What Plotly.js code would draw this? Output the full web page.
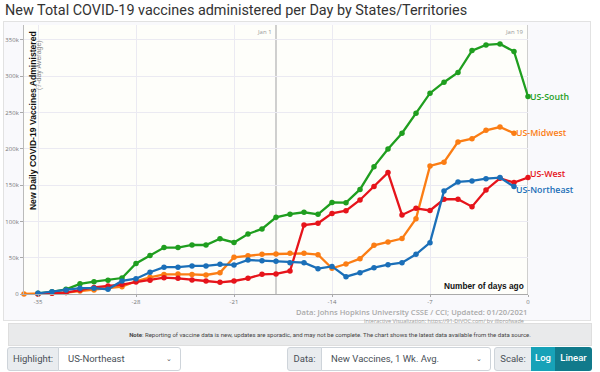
<!DOCTYPE html>
<html>
<head>
<meta charset="utf-8">
<script src="https://cdn.plot.ly/plotly-3.0.1.min.js"></script>
<style>
  html, body { margin:0; padding:0; background:#fff; width:600px; height:372px; overflow:hidden; font-family:"Roboto","Liberation Sans",sans-serif; }
  #frame { position:absolute; left:3px; top:21px; width:588px; height:300px; border:1px solid #e2e2e2; background:#f9f9fc; box-sizing:border-box; }
  #chart { position:absolute; left:0; top:0; width:600px; height:332px; }
  #note { position:absolute; left:8px; top:323px; width:584px; height:23px; background:#e9eaeb; border:1px solid #dedede; box-sizing:border-box; font-size:6px; color:#444; text-align:center; line-height:21px; padding-left:60px; font-family:"Roboto",sans-serif; }
  .ctl { position:absolute; top:347px; height:24px; box-sizing:border-box; border:1px solid #ced4da; font-size:9.5px; color:#495057; line-height:22px; font-family:"Roboto",sans-serif; }
  .lbl { background:#e9ecef; text-align:center; }
  .sel { background:#fff; padding-left:9px; }
  .chev { position:absolute; right:8px; top:0; font-size:7px; color:#555; }
  .btn { color:#fff; text-align:center; font-weight:500; border:none; }
</style>
</head>
<body>
<div id="frame"></div>
<div id="chart"></div>
<div id="note"><b>Note</b>: Reporting of vaccine data is new, updates are sporadic, and may not be complete. The chart shows the latest data available from the data source.</div>
<div class="ctl lbl" style="left:7px;width:52px;border-radius:3px 0 0 3px;">Highlight:</div>
<div class="ctl sel" style="left:58px;width:123px;border-radius:0 3px 3px 0;">US-Northeast<span class="chev">&#8964;</span></div>
<div class="ctl lbl" style="left:287px;width:35px;border-radius:3px 0 0 3px;">Data:</div>
<div class="ctl sel" style="left:321px;width:170px;border-radius:0 3px 3px 0;">New Vaccines, 1 Wk. Avg.<span class="chev">&#8964;</span></div>
<div class="ctl lbl" style="left:494px;width:38px;border-radius:3px 0 0 3px;">Scale:</div>
<div class="ctl btn" style="left:531px;width:24px;background:#17a2b8;">Log</div>
<div class="ctl btn" style="left:555px;width:37px;background:#117a8b;border-radius:0 3px 3px 0;">Linear</div>
<script>
// ---- data (values in thousands of vaccines/day, 7-day avg) ----
const southDays = [-35,-34,-33,-32,-31,-30,-29,-28,-27,-26,-25,-24,-23,-22,-21,-20,-19,-18,-17,-16,-15,-14,-13,-12,-11,-10,-9,-8,-7,-6,-5,-4,-3,-2,-1,0];
const southVals = [1,3,6.5,14,17,19,22,42,53,64,64,67.5,67.5,76,71,82.7,89.6,105.6,110,112.6,109.8,126,125.8,144,175.4,199.8,221.4,249,276.6,291.7,305,335.3,343,344.5,334,272];

const midwestDays = [-36,-35,-34,-33,-32,-31,-30,-29,-28,-27,-26,-25,-24,-23,-22,-21,-20,-19,-18,-17,-16,-15,-14,-13,-12,-11,-10,-9,-8,-7,-6,-5,-4,-3,-2,-1];
const midwestVals = [0,0,1,2,4,5.5,8,10,17.5,23,27,27.5,27,26.2,29.4,50.5,52.8,54.6,55.1,56,56,54.2,35.4,41.3,48.7,67,71.7,76.3,103.8,176.4,181.5,209.5,214,225.5,230,221.4];

const westDays = [-35,-34,-33,-32,-31,-30,-29,-28,-27,-26,-25,-24,-23,-22,-21,-20,-19,-18,-17,-16,-15,-14,-13,-12,-11,-10,-9,-8,-7,-6,-5,-4,-3,-2,-1,0];
const westVals = [0,1,2,5.5,9,11,13,16.5,19,22.5,21.6,19.3,17.9,16.1,17.9,21.6,27.1,27.6,31.7,95,97.4,111,114.8,129.5,147.9,167.2,108.9,118,115,130.5,130.5,120.3,143.3,159.4,153.4,160.3];

const northeastDays = [-35,-34,-33,-32,-31,-30,-29,-28,-27,-26,-25,-24,-23,-22,-21,-20,-19,-18,-17,-16,-15,-14,-13,-12,-11,-10,-9,-8,-7,-6,-5,-4,-3,-2,-1];
const northeastVals = [1,3,5.5,8,8,6.5,18,21,30,37,37,38.6,38.6,40.9,40,46.8,45.9,45,43.2,43.2,34.9,38,23.9,29.4,36.3,40.4,43.2,54.7,70.7,142,154.3,155.7,158.9,160.3,147.9];

const seriesNames = ["US-Midwest","US-South","US-West","US-Northeast"];
const xTickVals = [-35,-28,-21,-14,-7,0];
const xTickText = ["-35","-28","-21","-14","-7","0"];
const yTickVals = [0,50000,100000,150000,200000,250000,300000,350000];
const yTickText = ["0","50k","100k","150k","200k","250k","300k","350k"];
const dateMarkers = [{day:-18,label:"Jan 1"},{day:0,label:"Jan 19"}];

// ---- build ----
const colors = {"US-South":"#1f9e1f","US-Midwest":"#fb7d14","US-West":"#e6141b","US-Northeast":"#1b6fb8"};
const labelShift = {"US-South":0,"US-Midwest":0,"US-West":4,"US-Northeast":-3};
const dataBy = {
  "US-South":[southDays,southVals],
  "US-Midwest":[midwestDays,midwestVals],
  "US-West":[westDays,westVals],
  "US-Northeast":[northeastDays,northeastVals]
};
const traces = seriesNames.map(n => ({
  type:"scatter", mode:"lines+markers", name:n,
  x:dataBy[n][0], y:dataBy[n][1].map(v=>v*1000),
  line:{color:colors[n], width:2.3},
  marker:{color:colors[n], size:5.5},
  cliponaxis:false, hoverinfo:"skip"
}));

const annotations = seriesNames.map(n => {
  const d = dataBy[n][0], v = dataBy[n][1];
  return {x:d[d.length-1], y:v[v.length-1]*1000, xref:"x", yref:"y", text:n,
    showarrow:false, xanchor:"left", yanchor:"middle", xshift:1, yshift:labelShift[n], borderpad:0,
    font:{family:"Open Sans, sans-serif", size:8.8, color:colors[n], weight:600}};
});
dateMarkers.forEach(m => annotations.push({x:m.day, y:1, xref:"x", yref:"paper", text:m.label,
  showarrow:false, xanchor:"right", yanchor:"top", xshift:-2, yshift:-1,
  font:{family:"Open Sans, sans-serif", size:6, color:"#999"}}));
annotations.push({x:0.018, y:0.643, xref:"paper", yref:"paper", text:"<b>New Daily COVID-19 Vaccines Administered</b>",
  textangle:-90, showarrow:false, xanchor:"center", yanchor:"middle",
  font:{family:"Liberation Sans, Arial, sans-serif", size:8.6, color:"#111"}});
annotations.push({x:0.031, y:0.85, xref:"paper", yref:"paper", text:"(7-day Average)",
  textangle:-90, showarrow:false, xanchor:"center", yanchor:"middle",
  font:{family:"Liberation Sans, Arial, sans-serif", size:7, color:"#888"}});
annotations.push({x:1, y:0, xref:"paper", yref:"paper", text:"<b>Number of days ago</b>",
  showarrow:false, xanchor:"right", yanchor:"bottom", xshift:-2, yshift:1,
  font:{family:"Liberation Sans, Arial, sans-serif", size:8.3, color:"#111"}});
annotations.push({x:1, y:0, xref:"paper", yref:"paper", text:"Data: Johns Hopkins University CSSE / CCI; Updated: 01/20/2021",
  showarrow:false, xanchor:"right", yanchor:"top", yshift:-11.5, borderpad:0,
  font:{family:"Open Sans, sans-serif", size:7.6, color:"#aaa", weight:600}});
annotations.push({x:1, y:0, xref:"paper", yref:"paper", text:"Interactive Visualization: https://91-DIVOC.com/ by @profwade_",
  showarrow:false, xanchor:"right", yanchor:"top", yshift:-21.5, borderpad:0,
  font:{family:"Open Sans, sans-serif", size:5.5, color:"#999"}});

const shapes = dateMarkers.map(m => ({type:"line", xref:"x", yref:"paper", x0:m.day, x1:m.day, y0:0, y1:1,
  line:{color:"#c4c4c4", width:1.6}, layer:"below"}));

const layout = {
  width:600, height:332,
  margin:{l:24, r:72, t:25, b:38},
  paper_bgcolor:"rgba(0,0,0,0)", plot_bgcolor:"#fefefa",
  showlegend:false,
  title:{text:"New Total COVID-19 vaccines administered per Day by States/Territories",
    x:5/600, xanchor:"left", xref:"container", y:1-10/332, yanchor:"middle", yref:"container",
    font:{family:"Roboto, sans-serif", size:14.4, color:"#333"}},
  xaxis:{range:[-36,0], tickvals:xTickVals, ticktext:xTickText, showgrid:true, gridcolor:"#ebeaf2", gridwidth:1,
    zeroline:false, showline:true, linecolor:"#aaa", linewidth:1, ticks:"outside", ticklen:2, tickcolor:"#aaa",
    tickfont:{family:"Open Sans, sans-serif", size:6, color:"#777"}, fixedrange:true},
  yaxis:{range:[0,370500], tickvals:yTickVals, ticktext:yTickText, showgrid:true, gridcolor:"#ebeaf2", gridwidth:1,
    zeroline:false, showline:true, linecolor:"#bbb", linewidth:1, ticks:"outside", ticklen:3, tickcolor:"#aaa",
    tickfont:{family:"Open Sans, sans-serif", size:6, color:"#777"}, fixedrange:true},
  annotations:annotations, shapes:shapes
};
Plotly.newPlot("chart", traces, layout, {displayModeBar:false, staticPlot:true});
</script>
</body>
</html>
